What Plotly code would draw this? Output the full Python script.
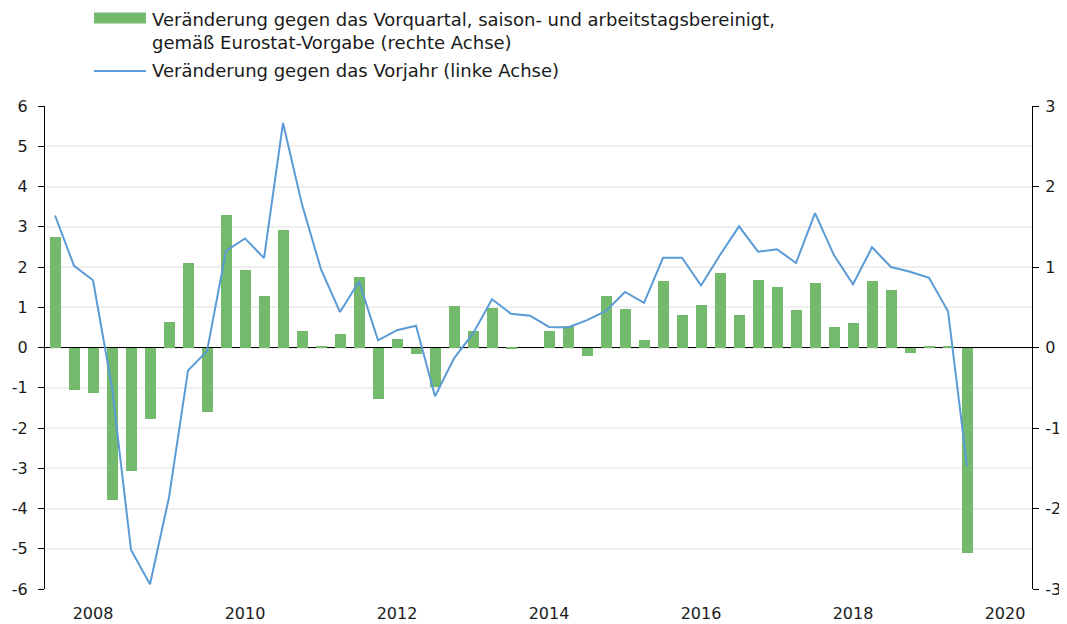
import plotly.graph_objects as go

# ---------------- data ----------------
years = list(range(2008, 2021))
quarter_labels = [f"{y} Q{q}" for y in years for q in range(1, 5)][:49]

# q/q change, seasonally and calendar adjusted (right axis, %)
qoq = [1.37, -0.53, -0.56, -1.89, -1.53, -0.89, 0.32, 1.05, -0.80, 1.65,
       0.96, 0.64, 1.46, 0.20, 0.01, 0.17, 0.87, -0.64, 0.11, -0.08,
       -0.49, 0.51, 0.21, 0.49, -0.01, 0.00, 0.21, 0.27, -0.10, 0.64,
       0.48, 0.09, 0.82, 0.41, 0.53, 0.93, 0.41, 0.84, 0.75, 0.47,
       0.80, 0.26, 0.30, 0.82, 0.71, -0.07, 0.02, 0.02, -2.55]

# y/y change (left axis, %)
yoy = [3.28, 2.03, 1.67, -1.00, -5.03, -5.88, -3.72, -0.57, -0.09, 2.40,
       2.71, 2.22, 5.58, 3.55, 1.94, 0.88, 1.64, 0.18, 0.43, 0.54,
       -1.21, -0.27, 0.35, 1.20, 0.84, 0.79, 0.51, 0.50, 0.68, 0.91,
       1.38, 1.11, 2.23, 2.23, 1.54, 2.30, 3.01, 2.38, 2.44, 2.10,
       3.34, 2.29, 1.57, 2.49, 2.00, 1.88, 1.73, 0.90, -2.95]

x_tick_labels = ["2008", "2010", "2012", "2014", "2016", "2018", "2020"]
left_ticks = [6, 5, 4, 3, 2, 1, 0, -1, -2, -3, -4, -5, -6]
left_tick_text = ["6", "5", "4", "3", "2", "1", "0", "-1", "-2", "-3", "-4", "-5", "-6"]
right_ticks = [3, 2, 1, 0, -1, -2, -3]
right_tick_text = ["3", "2", "1", "0", "-1", "-2", "-3"]

legend_bar_text = ["Veränderung gegen das Vorquartal, saison- und arbeitstagsbereinigt,",
                   "gemäß Eurostat-Vorgabe (rechte Achse)"]
legend_line_text = "Veränderung gegen das Vorjahr (linke Achse)"

# ---------------- styling ----------------
PAGE_W, PAGE_H = 1067, 624
OFF = 8  # default body margin of the html page
W, H = PAGE_W - OFF, PAGE_H - OFF
# target plot area in page pixels
PL, PR, PT, PB = 45, 1032, 106, 589
ML, MT = PL - OFF, PT - OFF
MR, MB = PAGE_W - PR, PAGE_H - PB
FONT = "DejaVu Sans"
TXT = "#1a1a1a"
GREEN = "#73BA6D"
BLUE = "#5B9BD5"


def px(xp):
    return (xp - PL) / (PR - PL)


def py(yp):
    return (PB - yp) / (PB - PT)


# numeric x positions (quarter start in decimal years)
xpos = [int(s[:4]) + (int(s[-1]) - 1) / 4 for s in quarter_labels]
x_tick_vals = [int(t) + 0.5 for t in x_tick_labels]

fig = go.Figure()

fig.add_trace(go.Bar(
    x=xpos, y=qoq, yaxis="y", marker=dict(color=GREEN, line=dict(width=0)),
    width=0.145, name=" ".join(legend_bar_text), showlegend=False,
    customdata=quarter_labels,
))
fig.add_trace(go.Scatter(
    x=xpos, y=yoy, yaxis="y2", mode="lines",
    line=dict(color=BLUE, width=2), name=legend_line_text, showlegend=False,
    customdata=quarter_labels,
))

axis_font = dict(family=FONT, size=16, color=TXT)

fig.update_layout(
    width=W, height=H,
    margin=dict(l=ML, r=MR, t=MT, b=MB, autoexpand=False),
    paper_bgcolor="white", plot_bgcolor="white",
    font=dict(family=FONT, size=16, color=TXT),
    bargap=0,
    xaxis=dict(
        range=[2007.868, 2020.855], tickvals=x_tick_vals, ticktext=x_tick_labels,
        showgrid=False, zeroline=False, showline=False, ticks="",
        tickfont=axis_font, ticklabelstandoff=13, automargin=False,
    ),
    # bars: right axis
    yaxis=dict(
        side="right", range=[-3, 3], tickvals=right_ticks, ticktext=right_tick_text,
        showgrid=False, zeroline=True, zerolinecolor="black", zerolinewidth=1,
        showline=True, linecolor="black", linewidth=1,
        ticks="outside", ticklen=6, tickcolor="black", tickfont=axis_font,
        ticklabelstandoff=3, automargin=False,
    ),
    # line: left axis
    yaxis2=dict(
        overlaying="y", side="left", range=[-6, 6],
        tickvals=left_ticks, ticktext=left_tick_text,
        showgrid=True, gridcolor="#EFEFEF", gridwidth=2,
        zeroline=False,
        showline=True, linecolor="black", linewidth=1,
        ticks="outside", ticklen=6, tickcolor="black", tickfont=axis_font,
        ticklabelstandoff=7, automargin=False,
    ),
)

# ---------------- manual legend ----------------
fig.add_shape(type="rect", xref="paper", yref="paper",
              x0=px(94), x1=px(146), y0=py(23.5), y1=py(12.5),
              fillcolor=GREEN, line=dict(width=0))
fig.add_shape(type="line", xref="paper", yref="paper",
              x0=px(94), x1=px(146), y0=py(71), y1=py(71),
              line=dict(color=BLUE, width=2))
for txt, yy in [(legend_bar_text[0], 19), (legend_bar_text[1], 42), (legend_line_text, 71)]:
    fig.add_annotation(text=txt, xref="paper", yref="paper",
                       x=px(150), y=py(yy), xanchor="left", yanchor="middle",
                       showarrow=False, font=dict(family=FONT, size=18, color=TXT))

fig.write_html("out.html")
